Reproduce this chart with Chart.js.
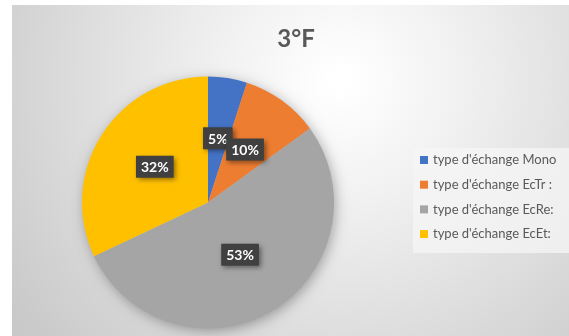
<!DOCTYPE html>
<html>
<head>
<meta charset="utf-8">
<script src="https://cdn.jsdelivr.net/npm/chart.js@4"></script>
<style>
  html, body { margin: 0; padding: 0; background: #fff; }
  #wrap { width: 569px; height: 336px; position: relative; }
</style>
</head>
<body>
<div id="wrap"><canvas id="pieChart" width="569" height="336"></canvas></div>
<script>
// Pie chart "3°F" - share of each exchange type
const title = '3°F';
const categories = [
    "type d'échange Mono",
    "type d'échange EcTr :",
    "type d'échange EcRe:",
    "type d'échange EcEt:"
];
const shares = [5, 10, 53, 32];
const colors = ['#4472C4', '#ED7D31', '#A5A5A5', '#FFC000'];

const FONT = 'Lato, "Open Sans", sans-serif';

// Panel background: soft radial gray gradient, like the Office style
const panelPlugin = {
    id: 'panel',
    beforeDraw(chart) {
        const { ctx, width, height } = chart;
        ctx.save();
        ctx.fillStyle = '#ffffff';
        ctx.fillRect(0, 0, width, height);
        const g = ctx.createRadialGradient(340, 80, 10, 340, 80, 400);
        g.addColorStop(0, '#ffffff');
        g.addColorStop(0.3, '#f0f0f0');
        g.addColorStop(1, '#c9c9c9');
        ctx.fillStyle = g;
        ctx.fillRect(12, 5, width - 12, height - 5);
        // soft shadow under the pie
        const arc = chart.getDatasetMeta(0).data[0];
        if (arc) {
            ctx.shadowColor = 'rgba(0,0,0,0.35)';
            ctx.shadowBlur = 14;
            ctx.shadowOffsetX = 2;
            ctx.shadowOffsetY = 3;
            ctx.fillStyle = '#bdbdbd';
            ctx.beginPath();
            ctx.arc(arc.x, arc.y, arc.outerRadius - 1, 0, Math.PI * 2);
            ctx.fill();
        }
        ctx.restore();
    }
};

// Title, legend and dark percentage boxes
const labelPlugin = {
    id: 'labels',
    afterDatasetsDraw(chart) {
        const { ctx } = chart;
        const meta = chart.getDatasetMeta(0);

        // title
        ctx.save();
        ctx.font = 'bold 24px ' + FONT;
        ctx.fillStyle = '#595959';
        ctx.textAlign = 'center';
        ctx.textBaseline = 'middle';
        ctx.fillText(title, 296, 39);
        ctx.restore();

        // data labels
        ctx.save();
        ctx.font = 'bold 14px ' + FONT;
        ctx.textAlign = 'center';
        ctx.textBaseline = 'middle';
        meta.data.forEach((arc, i) => {
            const p = arc.tooltipPosition();
            const txt = shares[i] + '%';
            const w = ctx.measureText(txt).width + 10;
            const h = 22;
            const px = p.x, py = p.y - 2;
            ctx.save();
            ctx.shadowColor = 'rgba(0,0,0,0.45)';
            ctx.shadowBlur = 5;
            ctx.shadowOffsetX = 2;
            ctx.shadowOffsetY = 2;
            ctx.fillStyle = '#404040';
            ctx.fillRect(px - w / 2, py - h / 2, w, h);
            ctx.restore();
            ctx.fillStyle = '#ffffff';
            ctx.fillText(txt, px, py + 1);
        });
        ctx.restore();

        // legend
        ctx.save();
        ctx.fillStyle = 'rgba(245,245,245,0.75)';
        ctx.fillRect(413, 148, 156, 105);
        ctx.font = '13px ' + FONT;
        ctx.textAlign = 'left';
        ctx.textBaseline = 'middle';
        categories.forEach((c, i) => {
            const y = 160 + i * 24.7;
            ctx.fillStyle = colors[i];
            ctx.fillRect(420, y - 4, 8, 8);
            ctx.fillStyle = '#595959';
            ctx.fillText(c, 433, y);
        });
        ctx.restore();
    }
};

new Chart(document.getElementById('pieChart').getContext('2d'), {
    type: 'pie',
    data: {
        labels: categories,
        datasets: [{
            data: shares,
            backgroundColor: colors,
            borderWidth: 0
        }]
    },
    options: {
        responsive: false,
        animation: false,
        layout: { padding: { left: 82, right: 235, top: 76, bottom: 7 } },
        plugins: {
            legend: { display: false },
            title: { display: false },
            tooltip: { enabled: false }
        }
    },
    plugins: [panelPlugin, labelPlugin]
});
</script>
</body>
</html>
